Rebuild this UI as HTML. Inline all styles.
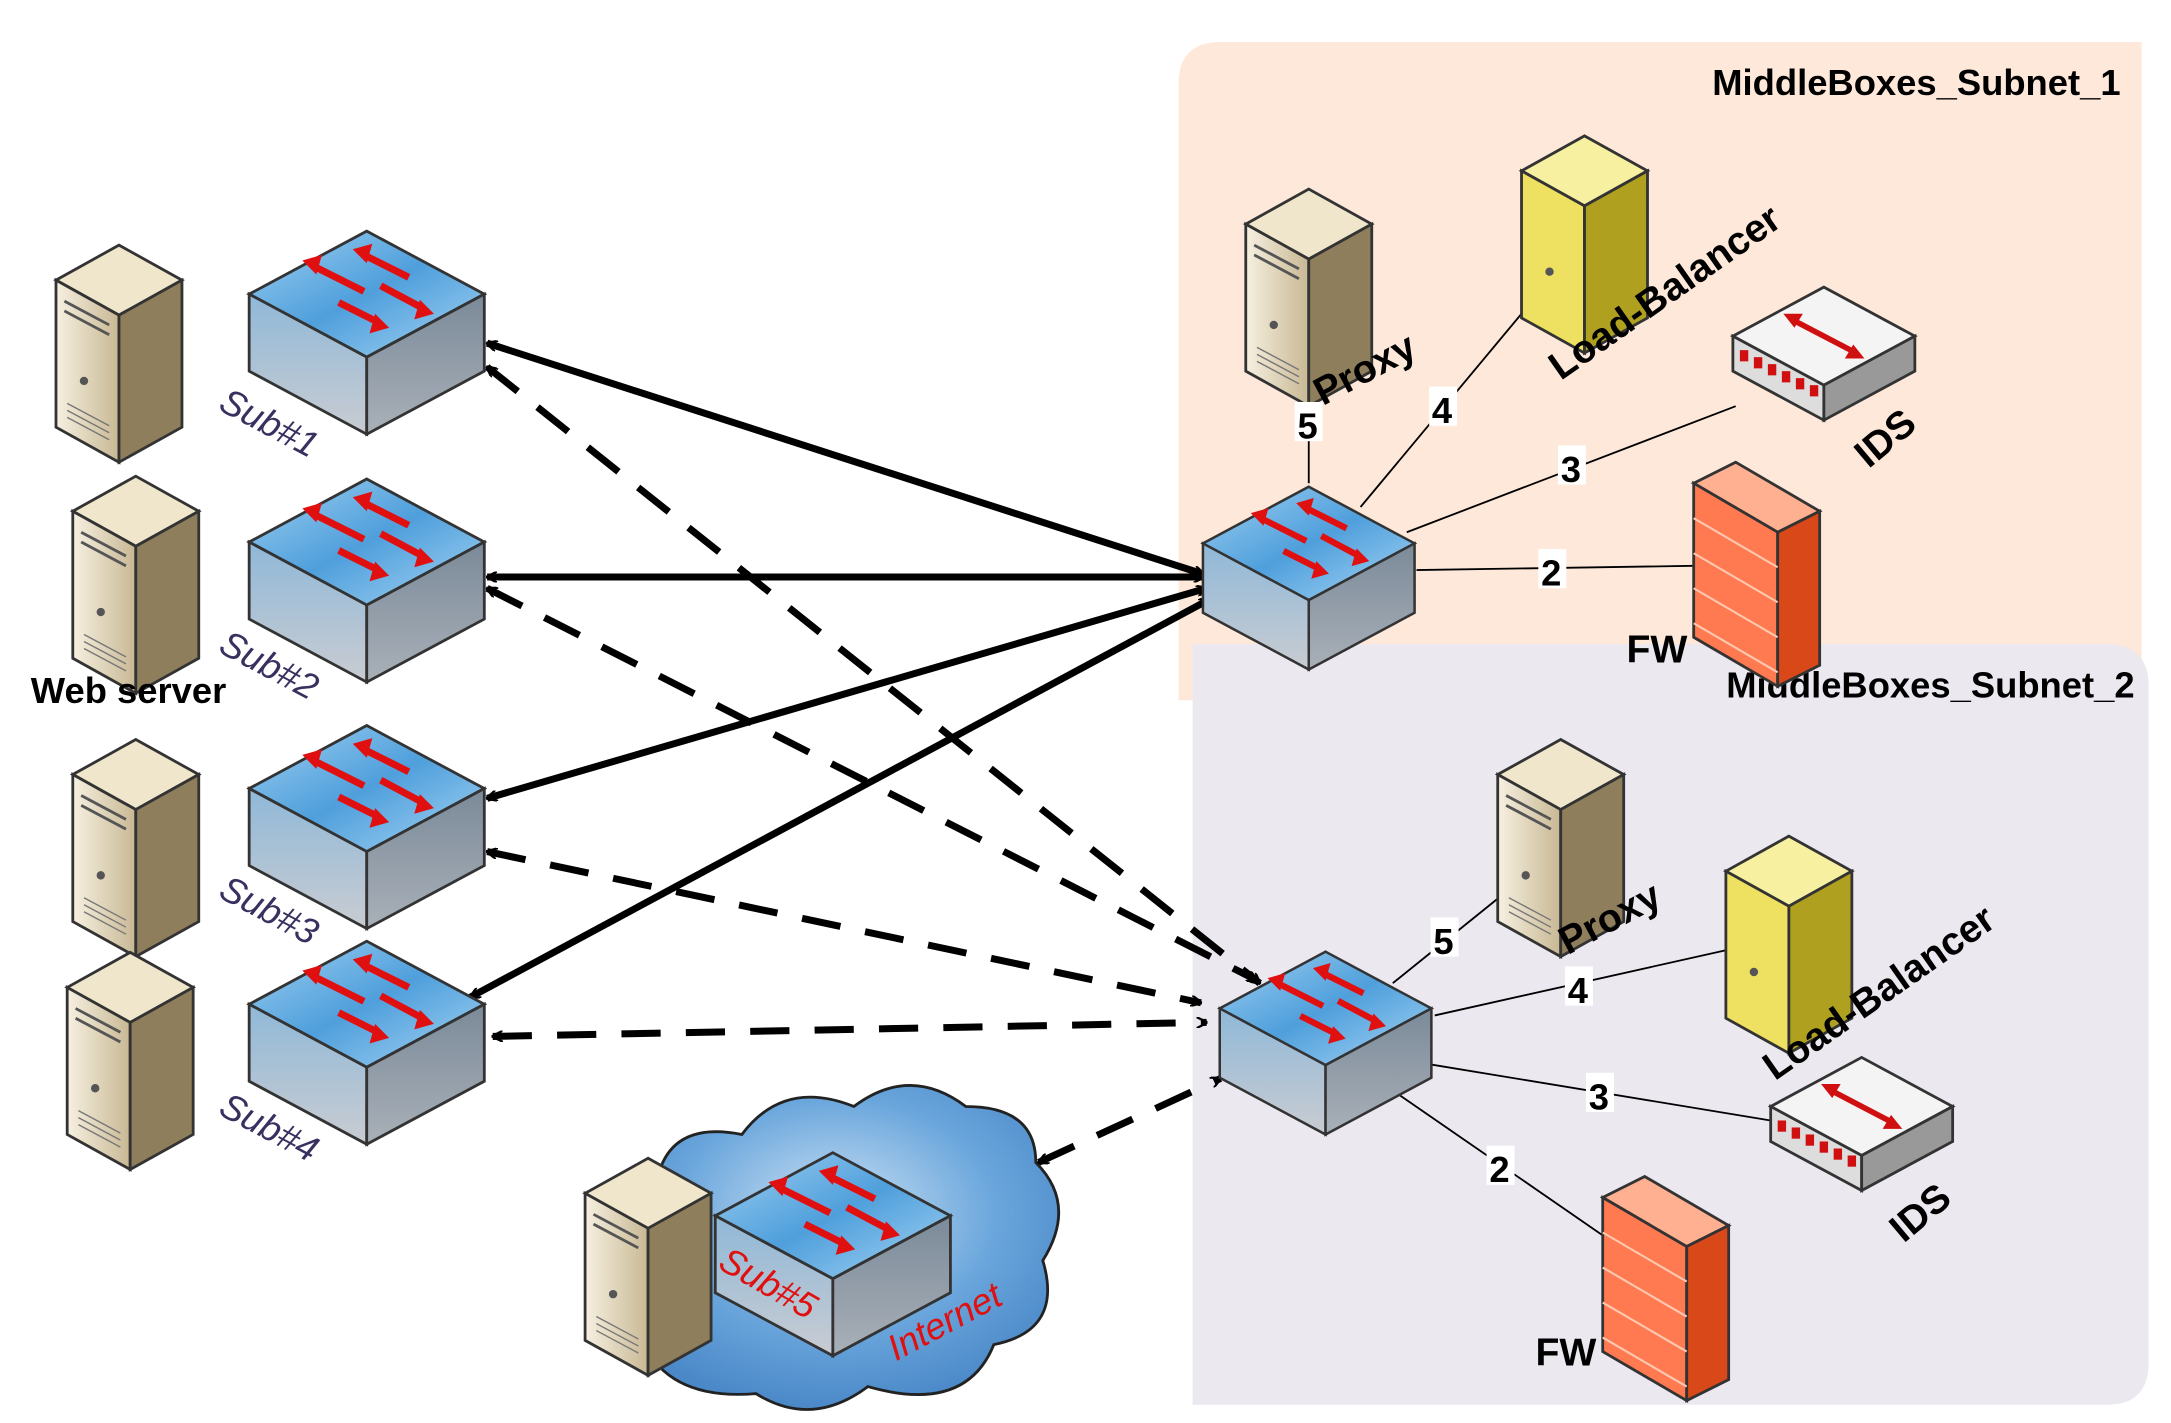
<!DOCTYPE html>
<html><head><meta charset="utf-8"><style>
html,body{margin:0;padding:0;background:#fff}
svg{display:block}
text{font-family:"Liberation Sans",sans-serif;font-weight:bold}
</style></head><body>
<svg width="2171" height="1423" viewBox="0 0 1551 1016" preserveAspectRatio="none" xmlns="http://www.w3.org/2000/svg">
<defs>
<linearGradient id="top" x1="0" y1="0" x2="1" y2="1"><stop offset="0" stop-color="#9fd0f0"/><stop offset="0.5" stop-color="#4f9fdc"/><stop offset="1" stop-color="#a8d6f4"/></linearGradient>
<linearGradient id="lf" x1="0" y1="0" x2="0" y2="1"><stop offset="0" stop-color="#8fb8d8"/><stop offset="1" stop-color="#c9ccd2"/></linearGradient>
<linearGradient id="rf" x1="0" y1="0" x2="0" y2="1"><stop offset="0" stop-color="#7b8a99"/><stop offset="1" stop-color="#a9b0b8"/></linearGradient>
<radialGradient id="cl" cx="0.5" cy="0.4" r="0.6"><stop offset="0" stop-color="#cfe3f5"/><stop offset="0.6" stop-color="#6aa6dc"/><stop offset="1" stop-color="#4a88c8"/></radialGradient>
<g id="sw">
<polygon points="0,-45 84,0 0,45 -84,0" fill="url(#top)" stroke="#333" stroke-width="2"/>
<polygon points="-84,0 0,45 0,100 -84,55" fill="url(#lf)" stroke="#333" stroke-width="2"/>
<polygon points="84,0 0,45 0,100 84,55" fill="url(#rf)" stroke="#333" stroke-width="2"/>
<g stroke="#e01010" stroke-width="5" fill="#e01010">
<line x1="30" y1="-12" x2="-2" y2="-28"/><polygon points="-10,-32 4,-36 0,-22" stroke="none"/>
<line x1="-2" y1="-2" x2="-38" y2="-20"/><polygon points="-46,-24 -32,-28 -36,-14" stroke="none"/>
<line x1="10" y1="-6" x2="40" y2="10"/><polygon points="48,14 34,18 38,4" stroke="none"/>
<line x1="-20" y1="6" x2="8" y2="20"/><polygon points="16,24 2,28 6,14" stroke="none"/>
</g>
</g>
<linearGradient id="srvF" x1="0" y1="0" x2="1" y2="0"><stop offset="0" stop-color="#f6f0e0"/><stop offset="1" stop-color="#c8b894"/></linearGradient>
<g id="srv">
<polygon points="0,-10 45,-35 90,-10 45,15" fill="#efe6cc" stroke="#333" stroke-width="2"/>
<polygon points="0,-10 45,15 45,120 0,95" fill="url(#srvF)" stroke="#333" stroke-width="2"/>
<polygon points="45,15 90,-10 90,95 45,120" fill="#8f7e5c" stroke="#333" stroke-width="2"/>
<line x1="6" y1="5" x2="38" y2="22" stroke="#555" stroke-width="2"/>
<line x1="6" y1="12" x2="38" y2="29" stroke="#555" stroke-width="2"/>
<circle cx="20" cy="62" r="3" fill="#555"/>
<line x1="8" y1="78" x2="38" y2="94" stroke="#777"/><line x1="8" y1="83" x2="38" y2="99" stroke="#777"/><line x1="8" y1="88" x2="38" y2="104" stroke="#777"/>
</g>
<g id="fw">
<polygon points="0,0 30,-15 90,20 60,35" fill="#ffb090" stroke="#333" stroke-width="2"/>
<polygon points="0,0 60,35 60,145 0,110" fill="#ff7a50" stroke="#333" stroke-width="2"/>
<polygon points="60,35 90,20 90,130 60,145" fill="#d84818" stroke="#333" stroke-width="2"/>
<g stroke="#ffc8b0" stroke-width="1.5"><line x1="0" y1="25" x2="60" y2="60"/><line x1="0" y1="50" x2="60" y2="85"/><line x1="0" y1="75" x2="60" y2="110"/><line x1="0" y1="100" x2="60" y2="135"/></g>
</g>
<g id="ids">
<polygon points="0,30 65,-5 130,30 65,65" fill="#f4f4f4" stroke="#333" stroke-width="2"/>
<polygon points="0,30 65,65 65,90 0,55" fill="#ddd" stroke="#333" stroke-width="2"/>
<polygon points="65,65 130,30 130,55 65,90" fill="#999" stroke="#333" stroke-width="2"/>
<g fill="#d01010"><rect x="5" y="40" width="6" height="8"/><rect x="15" y="45" width="6" height="8"/><rect x="25" y="50" width="6" height="8"/><rect x="35" y="55" width="6" height="8"/><rect x="45" y="60" width="6" height="8"/><rect x="55" y="65" width="6" height="8"/></g>
<line x1="42" y1="18" x2="88" y2="42" stroke="#d01010" stroke-width="4"/>
<polygon points="36,14 50,14 44,24" fill="#d01010"/><polygon points="94,46 80,46 86,36" fill="#d01010"/>
</g>
<marker id="ah" viewBox="0 0 20 20" refX="18" refY="10" markerWidth="8" markerHeight="8" orient="auto-start-reverse" markerUnits="userSpaceOnUse"><path d="M0,0 L20,10 L0,20" fill="none" stroke="#000" stroke-width="4"/></marker>
</defs>
<path d="M872,30 H1530 V500 H842 V60 Q842,30 872,30 Z" fill="#fde8da"/>
<path d="M852,460 H1505 Q1535,460 1535,490 V973 Q1535,1003 1505,1003 H852 Z" fill="#ebe8f0"/>
<text x="1515" y="68" font-size="26" text-anchor="end">MiddleBoxes_Subnet_1</text>
<text x="1525" y="498" font-size="26" text-anchor="end">MiddleBoxes_Subnet_2</text>

<path d="M460,960 Q420,940 450,910 Q420,860 470,840 Q480,800 530,810 Q560,770 610,790 Q650,760 690,790 Q740,790 740,830 Q770,860 745,900 Q760,950 710,960 Q690,1010 620,990 Q580,1020 540,995 Q480,1000 460,960 Z" fill="url(#cl)" stroke="#222" stroke-width="2"/>

<g stroke="#000" stroke-width="1.3">
<line x1="935" y1="345" x2="935" y2="265"/><line x1="972" y1="362" x2="1092" y2="218"/><line x1="1005" y1="380" x2="1240" y2="290"/><line x1="1012" y1="407" x2="1210" y2="404"/>
<line x1="995" y1="702" x2="1072" y2="640"/><line x1="1025" y1="725" x2="1235" y2="678"/><line x1="1022" y1="760" x2="1265" y2="800"/><line x1="1000" y1="782" x2="1145" y2="882"/>
</g>

<g stroke="#000" stroke-width="5" fill="none" marker-start="url(#ah)" marker-end="url(#ah)">
<line x1="348" y1="245" x2="860" y2="410"/>
<line x1="348" y1="412" x2="860" y2="412"/>
<line x1="348" y1="570" x2="862" y2="420"/>
<line x1="336" y1="712" x2="864" y2="428"/>
</g>
<g stroke="#000" stroke-width="5" fill="none" stroke-dasharray="28,18" marker-start="url(#ah)" marker-end="url(#ah)">
<line x1="348" y1="262" x2="900" y2="702"/>
<line x1="348" y1="420" x2="898" y2="700"/>
<line x1="348" y1="608" x2="858" y2="716"/>
<line x1="352" y1="740" x2="862" y2="730"/>
<line x1="742" y1="830" x2="872" y2="770"/>
</g>

<use href="#srv" x="40" y="210"/>
<use href="#srv" x="52" y="375"/>
<use href="#srv" x="52" y="563"/>
<use href="#srv" x="48" y="715"/>
<use href="#sw" x="262" y="210"/>
<use href="#sw" x="262" y="387"/>
<use href="#sw" x="262" y="563"/>
<use href="#sw" x="262" y="717"/>
<g fill="#3a3060" font-size="26">
<text transform="translate(155,292) rotate(28)" style="font-weight:normal;font-style:italic">Sub#1</text>
<text transform="translate(155,465) rotate(28)" style="font-weight:normal;font-style:italic">Sub#2</text>
<text transform="translate(155,640) rotate(28)" style="font-weight:normal;font-style:italic">Sub#3</text>
<text transform="translate(155,795) rotate(28)" style="font-weight:normal;font-style:italic">Sub#4</text>
</g>
<text x="22" y="502" font-size="26">Web server</text>

<use href="#srv" x="418" y="862"/>
<use href="#sw" x="595" y="868"/>
<text transform="translate(512,905) rotate(30)" fill="#e01010" font-size="26" style="font-weight:normal;font-style:italic">Sub#5</text>
<text transform="translate(640,972) rotate(-28)" fill="#e01010" font-size="26" style="font-weight:normal;font-style:italic">Internet</text>

<g transform="translate(935,388) scale(0.9)"><use href="#sw"/></g>
<g transform="translate(947,720) scale(0.9)"><use href="#sw"/></g>

<use href="#srv" x="890" y="170"/>
<g transform="translate(1087,132)"><polygon points="0,-10 45,-35 90,-10 45,15" fill="#f6f0a0" stroke="#333" stroke-width="2"/><polygon points="0,-10 45,15 45,120 0,95" fill="#eee060" stroke="#333" stroke-width="2"/><polygon points="45,15 90,-10 90,95 45,120" fill="#b0a020" stroke="#333" stroke-width="2"/><circle cx="20" cy="62" r="3" fill="#555"/></g>
<use href="#ids" x="1238" y="210"/>
<use href="#fw" x="1210" y="345"/>
<g font-size="28">
<text transform="translate(945,290) rotate(-28)">Proxy</text>
<text transform="translate(1115,272) rotate(-35)">Load-Balancer</text>
<text transform="translate(1335,335) rotate(-40)">IDS</text>
<text x="1162" y="473">FW</text>
</g>
<g font-size="26"><rect x="925" y="287" width="20" height="28" fill="#fff"/><text x="927" y="313">5</text>
<rect x="1021" y="276" width="20" height="28" fill="#fff"/><text x="1023" y="302">4</text>
<rect x="1113" y="318" width="20" height="28" fill="#fff"/><text x="1115" y="344">3</text>
<rect x="1099" y="392" width="20" height="28" fill="#fff"/><text x="1101" y="418">2</text></g>

<use href="#srv" x="1070" y="563"/>
<g transform="translate(1233,632)"><polygon points="0,-10 45,-35 90,-10 45,15" fill="#f6f0a0" stroke="#333" stroke-width="2"/><polygon points="0,-10 45,15 45,120 0,95" fill="#eee060" stroke="#333" stroke-width="2"/><polygon points="45,15 90,-10 90,95 45,120" fill="#b0a020" stroke="#333" stroke-width="2"/><circle cx="20" cy="62" r="3" fill="#555"/></g>
<use href="#ids" x="1265" y="760"/>
<use href="#fw" x="1145" y="855"/>
<g font-size="28">
<text transform="translate(1120,682) rotate(-28)">Proxy</text>
<text transform="translate(1268,772) rotate(-35)">Load-Balancer</text>
<text transform="translate(1360,888) rotate(-40)">IDS</text>
<text x="1097" y="975">FW</text>
</g>
<g font-size="26"><rect x="1022" y="655" width="20" height="28" fill="#fff"/><text x="1024" y="681">5</text>
<rect x="1118" y="690" width="20" height="28" fill="#fff"/><text x="1120" y="716">4</text>
<rect x="1133" y="766" width="20" height="28" fill="#fff"/><text x="1135" y="792">3</text>
<rect x="1062" y="818" width="20" height="28" fill="#fff"/><text x="1064" y="844">2</text></g>
</svg>
</body></html>
